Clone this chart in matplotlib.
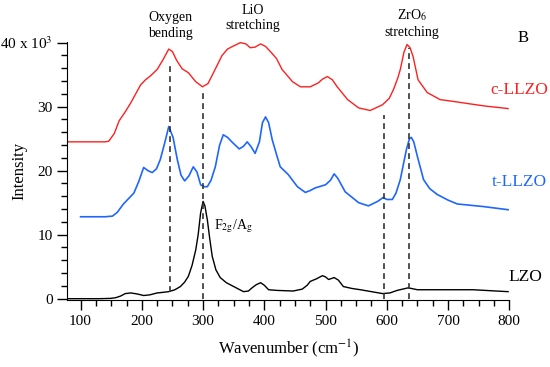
import numpy as np
import matplotlib
matplotlib.use('Agg')
import matplotlib.pyplot as plt
from matplotlib.ticker import MultipleLocator

plt.rcParams['font.family'] = ['Liberation Serif', 'DejaVu Serif']
plt.rcParams['mathtext.fontset'] = 'stix'

# c-LLZO (red)
w_c = [80, 100, 120, 140, 146, 155, 163, 173, 182, 190, 198, 206, 214, 225, 235, 244, 250, 257,
       266, 276, 288, 299, 308, 317, 331, 340, 348, 361, 370, 377, 385, 394, 402, 410, 420, 429,
       438, 446, 459, 475, 488, 495, 503, 511, 519, 536, 554, 573, 593, 604, 611, 618, 622, 628,
       633, 638, 643, 651, 666, 687, 710, 731, 760, 798]
i_c = [24.5, 24.5, 24.5, 24.5, 24.6, 25.8, 27.8, 29.2, 30.6, 32.0, 33.4, 34.2, 34.8, 35.8, 37.4, 39.0, 38.6, 37.2,
       35.9, 35.3, 33.9, 33.1, 33.6, 35.3, 38.0, 39.0, 39.4, 40.0, 39.8, 39.2, 39.3, 39.8, 39.4, 38.6, 37.5, 35.8,
       34.8, 33.9, 33.1, 33.1, 33.7, 34.3, 34.7, 34.2, 33.1, 31.1, 29.8, 29.4, 30.3, 31.3, 32.7, 34.5, 35.8, 38.5,
       39.7, 39.2, 37.8, 34.2, 32.2, 31.1, 30.8, 30.5, 30.1, 29.7]

# t-LLZO (blue)
w_t = [100, 120, 140, 152, 160, 170, 177, 187, 195, 203, 210, 217, 224, 230, 237, 244, 251, 258, 264, 270,
       277, 284, 290, 296, 301, 307, 313, 320, 327, 333, 340, 348, 359, 366, 372, 378, 385, 392, 397, 402,
       407, 413, 420, 426, 439, 454, 467, 475, 483, 500, 508, 514, 520, 532, 554, 570, 585, 594, 600, 609,
       615, 622, 632, 637, 640, 644, 650, 660, 670, 682, 700, 715, 757, 798]
i_t = [12.8, 12.8, 12.8, 12.9, 13.5, 14.8, 15.5, 16.5, 18.3, 20.5, 20.0, 19.7, 20.3, 21.7, 24.2, 26.9, 25.2, 21.7, 19.3, 18.4,
       19.2, 20.6, 19.8, 17.8, 17.5, 17.5, 18.5, 20.6, 24.0, 25.6, 25.2, 24.4, 23.4, 23.8, 24.5, 23.8, 22.7, 24.5, 27.5, 28.4,
       27.5, 24.8, 22.5, 20.6, 19.4, 17.5, 16.6, 16.9, 17.3, 17.8, 18.5, 19.5, 18.8, 16.7, 15.0, 14.5, 15.2, 15.8, 15.5, 15.5,
       16.5, 18.6, 23.3, 25.0, 25.2, 24.5, 22.2, 18.6, 17.2, 16.3, 15.4, 14.8, 14.4, 13.9]

# LZO (black)
w_l = [79, 100, 130, 149, 157, 165, 173, 182, 192, 203, 213, 225, 235, 244, 254, 263, 270, 276, 282, 288,
       292, 296, 300, 303, 307, 311, 315, 321, 328, 338, 350, 366, 374, 380, 387, 394, 400, 407, 420, 447,
       462, 470, 475, 485, 495, 500, 505, 514, 521, 529, 543, 557, 575, 593, 605, 617, 626, 635, 640, 650,
       700, 741, 798]
i_l = [0, 0, 0, 0.05, 0.15, 0.4, 0.8, 0.9, 0.75, 0.5, 0.6, 0.9, 1.0, 1.1, 1.4, 1.9, 2.6, 3.5, 5.2, 7.6,
       10.0, 13.4, 15.2, 14.5, 12.3, 9.3, 6.6, 4.5, 3.3, 2.5, 1.9, 1.1, 1.2, 1.7, 2.2, 2.5, 2.1, 1.4, 1.3, 1.2,
       1.5, 2.1, 2.7, 3.1, 3.6, 3.4, 3.0, 3.3, 2.9, 1.9, 1.6, 1.4, 1.1, 0.8, 0.9, 1.3, 1.5, 1.7, 1.6, 1.4,
       1.4, 1.4, 1.1]

# dashed marker lines
dash_x = [246, 300, 595, 636]
dash_top = [36.3, 32.5, 28.7, 39.2]
dash_bottom = [1.1, 0, 0, 0]

yticks = [0, 10, 20, 30, 40]
yticklabels = ['0', '10', '20', '30', '40 x 10$^3$']

fig = plt.figure(figsize=(5.5, 3.67), dpi=100)
ax = fig.add_axes([0.122, 0.1826, 0.804, 0.703])

ax.plot(w_c, i_c, color='#ff1f1f', lw=1.0, clip_on=False)
ax.plot(w_t, i_t, color='#1f66ff', lw=1.2, clip_on=False)
ax.plot(w_l, i_l, color='black', lw=1.0, clip_on=False)
ax.vlines(dash_x, dash_bottom, dash_top, colors='#333333', linestyles=(0, (3.5, 2.5)), lw=1.2)

ax.set_xlim(78, 800)
ax.set_ylim(-0.2, 40.1)
ax.xaxis.set_major_locator(MultipleLocator(100))
ax.xaxis.set_minor_locator(MultipleLocator(25))
ax.yaxis.set_minor_locator(MultipleLocator(2))
ax.set_yticks(yticks)
ax.set_yticklabels(yticklabels)
ax.tick_params(which='major', direction='out', length=7, width=1, labelsize=11)
ax.tick_params(which='minor', direction='out', length=4, width=1)
ax.spines['top'].set_visible(False)
ax.spines['right'].set_visible(False)

ax.set_xlabel('Wavenumber (cm$^{-1}$)', fontsize=12, va='center')
ax.set_ylabel('Intensity', fontsize=12, va='center')
ax.xaxis.set_label_coords(0.5, -0.19)
ax.yaxis.set_label_coords(-0.108, 0.5)

fig.text(170/550, 1-25/367, 'Oxygen\nbending', ha='center', va='center', fontsize=10, linespacing=1.3)
fig.text(253/550, 1-18/367, 'LiO\nstretching', ha='center', va='center', fontsize=10, linespacing=1.3)
fig.text(412/550, 1-23/367, 'ZrO$_6$\nstretching', ha='center', va='center', fontsize=10, linespacing=1.3)
fig.text(523/550, 1-38/367, 'B', ha='center', va='center', fontsize=12)
fig.text(519/550, 1-90/367, 'c-LLZO', ha='center', va='center', fontsize=12.5, color='#ff1f1f')
fig.text(519/550, 1-182/367, 't-LLZO', ha='center', va='center', fontsize=12.5, color='#1f66ff')
fig.text(525/550, 1-277/367, 'LZO', ha='center', va='center', fontsize=12.5, color='black')
fig.text(233/550, 1-226/367, r'F$_{\rm 2g}$/A$_{\rm g}$', ha='center', va='center', fontsize=10)

fig.savefig('out.png', dpi=100)
